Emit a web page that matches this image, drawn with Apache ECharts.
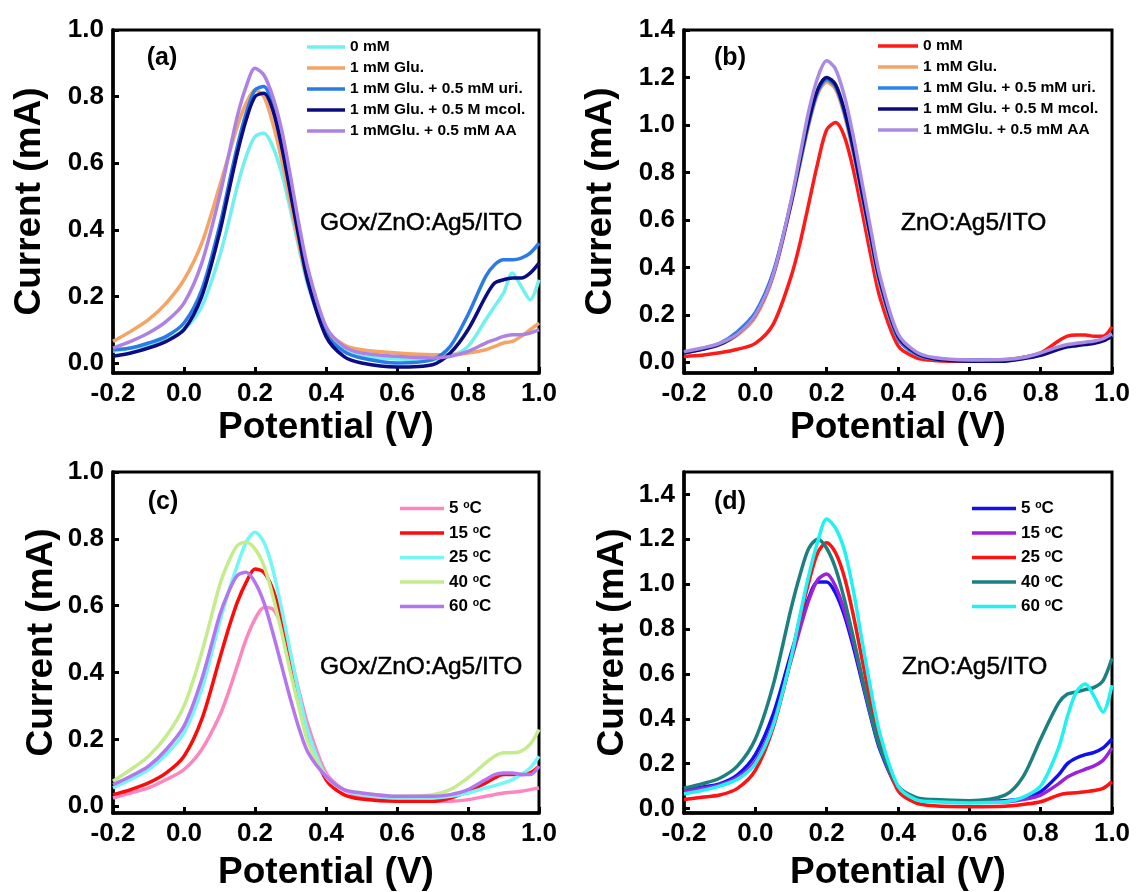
<!DOCTYPE html>
<html>
<head>
<meta charset="utf-8">
<title>Glucose sensing voltammograms</title>
<script src="https://cdn.jsdelivr.net/npm/echarts@6/dist/echarts.min.js"></script>
<style>
  html, body { margin: 0; padding: 0; background: #fff; }
  #chart { width: 1137px; height: 892px; }
</style>
</head>
<body>
<div id="chart"></div>
<script>
// Potential sweep points (V), shared by every curve
const POTENTIAL = [-0.2, -0.15, -0.1, -0.05, 0, 0.05, 0.1, 0.125, 0.15, 0.175, 0.2, 0.225, 0.25, 0.275, 0.3, 0.325, 0.35, 0.4, 0.45, 0.5, 0.6, 0.7, 0.75, 0.8, 0.85, 0.875, 0.9, 0.925, 0.95, 0.975, 1.0];

// Tick labels
const X_TICKS = [-0.2, 0, 0.2, 0.4, 0.6, 0.8, 1.0];
const Y_TICKS_1 = [0, 0.2, 0.4, 0.6, 0.8, 1.0];
const Y_TICKS_14 = [0, 0.2, 0.4, 0.6, 0.8, 1.0, 1.2, 1.4];

// Legend entries
const ANALYTE_LABELS = ['0 mM', '1 mM Glu.', '1 mM Glu. + 0.5 mM uri.', '1 mM Glu. + 0.5 M mcol.', '1 mMGlu. + 0.5 mM AA'];
const TEMPERATURES = ['5', '15', '25', '40', '60'];

// (a) GOx/ZnO:Ag5/ITO, interferents — current (mA)
const A_0MM   = [0.035,0.045,0.055,0.07,0.10,0.17,0.32,0.42,0.53,0.62,0.68,0.69,0.65,0.57,0.46,0.34,0.23,0.09,0.04,0.02,0.012,0.01,0.02,0.05,0.13,0.17,0.21,0.27,0.23,0.19,0.25];
const A_GLU   = [0.065,0.095,0.13,0.18,0.25,0.36,0.53,0.62,0.71,0.78,0.82,0.80,0.72,0.61,0.48,0.35,0.24,0.10,0.055,0.04,0.03,0.025,0.025,0.03,0.04,0.05,0.06,0.065,0.08,0.10,0.12];
const A_URI   = [0.04,0.045,0.06,0.08,0.12,0.22,0.41,0.53,0.65,0.75,0.82,0.83,0.77,0.66,0.52,0.38,0.25,0.09,0.035,0.015,0.0,0.01,0.05,0.145,0.26,0.295,0.31,0.31,0.315,0.33,0.36];
const A_MCOL  = [0.02,0.03,0.045,0.065,0.10,0.20,0.39,0.51,0.63,0.73,0.80,0.81,0.76,0.65,0.51,0.37,0.24,0.08,0.02,0.0,-0.012,-0.005,0.03,0.10,0.20,0.24,0.25,0.255,0.255,0.27,0.30];
const A_AA    = [0.045,0.065,0.09,0.125,0.18,0.30,0.50,0.62,0.74,0.83,0.885,0.865,0.80,0.70,0.56,0.41,0.28,0.11,0.05,0.03,0.02,0.015,0.02,0.035,0.06,0.07,0.08,0.085,0.085,0.09,0.10];

// (b) ZnO:Ag5/ITO, interferents
const B_0MM   = [0.025,0.03,0.04,0.055,0.08,0.16,0.36,0.50,0.67,0.84,0.98,1.01,0.95,0.81,0.63,0.44,0.27,0.07,0.02,0.008,0.004,0.01,0.02,0.04,0.09,0.11,0.115,0.115,0.11,0.11,0.15];
const B_GLU   = [0.04,0.055,0.075,0.115,0.19,0.36,0.66,0.83,1.00,1.13,1.18,1.15,1.04,0.88,0.69,0.50,0.32,0.10,0.035,0.015,0.01,0.012,0.02,0.035,0.06,0.07,0.075,0.08,0.085,0.095,0.115];
const B_URI   = [0.04,0.055,0.08,0.13,0.21,0.38,0.67,0.84,1.01,1.14,1.19,1.16,1.05,0.89,0.70,0.51,0.33,0.10,0.035,0.015,0.01,0.01,0.02,0.035,0.06,0.07,0.075,0.08,0.085,0.095,0.115];
const B_MCOL  = [0.04,0.055,0.075,0.12,0.20,0.37,0.67,0.85,1.02,1.15,1.20,1.17,1.06,0.90,0.71,0.52,0.34,0.11,0.04,0.015,0.005,0.005,0.015,0.03,0.055,0.065,0.07,0.075,0.08,0.09,0.11];
const B_AA    = [0.045,0.06,0.08,0.12,0.20,0.37,0.68,0.87,1.06,1.20,1.27,1.235,1.12,0.95,0.75,0.55,0.36,0.12,0.045,0.02,0.01,0.012,0.02,0.04,0.065,0.075,0.08,0.085,0.09,0.10,0.12];

// (c) GOx/ZnO:Ag5/ITO, temperature series
const C_5C    = [0.025,0.04,0.055,0.08,0.11,0.17,0.27,0.34,0.42,0.50,0.56,0.595,0.59,0.54,0.45,0.34,0.24,0.10,0.05,0.03,0.02,0.015,0.015,0.02,0.03,0.035,0.04,0.042,0.045,0.05,0.055];
const C_15C   = [0.035,0.05,0.07,0.10,0.15,0.26,0.44,0.53,0.61,0.67,0.71,0.70,0.65,0.56,0.44,0.32,0.21,0.08,0.035,0.022,0.015,0.015,0.025,0.045,0.07,0.085,0.095,0.095,0.095,0.10,0.12];
const C_25C   = [0.055,0.08,0.11,0.155,0.22,0.35,0.55,0.64,0.72,0.79,0.82,0.79,0.71,0.59,0.46,0.33,0.22,0.09,0.05,0.035,0.025,0.025,0.03,0.04,0.055,0.062,0.07,0.08,0.095,0.115,0.15];
const C_40C   = [0.075,0.11,0.15,0.21,0.30,0.46,0.66,0.73,0.78,0.79,0.77,0.72,0.63,0.52,0.40,0.29,0.19,0.09,0.05,0.04,0.03,0.035,0.05,0.085,0.13,0.15,0.16,0.16,0.165,0.185,0.23];
const C_60C   = [0.065,0.09,0.12,0.17,0.24,0.38,0.57,0.64,0.69,0.70,0.67,0.61,0.52,0.42,0.32,0.23,0.16,0.09,0.05,0.04,0.03,0.03,0.035,0.05,0.08,0.095,0.10,0.10,0.095,0.095,0.12];

// (d) ZnO:Ag5/ITO, temperature series
const D_5C    = [0.08,0.095,0.11,0.15,0.24,0.42,0.69,0.82,0.94,1.01,1.01,0.96,0.86,0.72,0.56,0.40,0.26,0.09,0.045,0.035,0.03,0.035,0.045,0.075,0.15,0.20,0.225,0.24,0.25,0.27,0.31];
const D_15C   = [0.075,0.09,0.105,0.14,0.21,0.38,0.66,0.80,0.93,1.02,1.045,0.99,0.88,0.74,0.57,0.41,0.27,0.09,0.045,0.035,0.03,0.03,0.04,0.06,0.11,0.14,0.16,0.175,0.19,0.215,0.27];
const D_25C   = [0.04,0.05,0.06,0.09,0.17,0.36,0.67,0.85,1.01,1.14,1.185,1.14,1.03,0.86,0.66,0.46,0.29,0.08,0.025,0.012,0.008,0.01,0.018,0.03,0.06,0.068,0.07,0.075,0.08,0.09,0.12];
const D_40C   = [0.09,0.11,0.135,0.19,0.31,0.55,0.89,1.04,1.16,1.20,1.16,1.07,0.93,0.76,0.58,0.41,0.27,0.10,0.05,0.04,0.035,0.06,0.14,0.31,0.47,0.51,0.52,0.53,0.54,0.57,0.67];
const D_60C   = [0.065,0.08,0.10,0.13,0.20,0.37,0.67,0.86,1.04,1.19,1.29,1.25,1.15,0.97,0.74,0.52,0.33,0.10,0.04,0.03,0.025,0.03,0.05,0.10,0.27,0.41,0.52,0.555,0.50,0.43,0.55];

const FONT = '"Liberation Sans", Arial, Helvetica, sans-serif';

// Panel layout and styling
const panels = [
  { key: 'a', grid: { left: 113, top: 30, width: 426, height: 343 }, yMin: -0.03, yMax: 1.0, yTicks: Y_TICKS_1,
    yNameGap: 65, xNameGap: 36, tag: '(a)', tagPos: [162, 58], film: 'GOx/ZnO:Ag5/ITO', filmPos: [320, 223],
    labels: ANALYTE_LABELS, values: [A_0MM, A_GLU, A_URI, A_MCOL, A_AA],
    colors: ['#72f0f0', '#f4a464', '#2a7be4', '#0c0c82', '#ad82e3'],
    legend: { left: 307, top: 39, itemWidth: 38, fontSize: 15.5, pitch: 20.5 } },
  { key: 'b', grid: { left: 684, top: 30, width: 428, height: 343 }, yMin: -0.045, yMax: 1.4, yTicks: Y_TICKS_14,
    yNameGap: 65, xNameGap: 36, tag: '(b)', tagPos: [730, 58], film: 'ZnO:Ag5/ITO', filmPos: [901, 223],
    labels: ANALYTE_LABELS, values: [B_0MM, B_GLU, B_URI, B_MCOL, B_AA],
    colors: ['#ff1a1a', '#f4a464', '#2a86e8', '#0c0c82', '#a98be3'],
    legend: { left: 878, top: 38, itemWidth: 40, fontSize: 15.5, pitch: 20.5 } },
  { key: 'c', grid: { left: 113, top: 472, width: 426, height: 345 }, yMin: -0.02, yMax: 1.0, yTicks: Y_TICKS_1,
    yNameGap: 53, xNameGap: 41, tag: '(c)', tagPos: [163, 502], film: 'GOx/ZnO:Ag5/ITO', filmPos: [320, 667],
    labels: TEMPERATURES, temp: true, values: [C_5C, C_15C, C_25C, C_40C, C_60C],
    colors: ['#ff85bf', '#ff0a0a', '#72f6f6', '#c5ec8c', '#b476ef'],
    legend: { left: 400, top: 500, itemWidth: 44, fontSize: 17, pitch: 24.5 } },
  { key: 'd', grid: { left: 684, top: 472, width: 428, height: 345 }, yMin: -0.02, yMax: 1.5, yTicks: Y_TICKS_14,
    yNameGap: 53, xNameGap: 41, tag: '(d)', tagPos: [730, 502], film: 'ZnO:Ag5/ITO', filmPos: [902, 667],
    labels: TEMPERATURES, temp: true, values: [D_5C, D_15C, D_25C, D_40C, D_60C],
    colors: ['#1010f0', '#9b22d6', '#ff1212', '#1b807f', '#20f2f2'],
    legend: { left: 972, top: 500, itemWidth: 44, fontSize: 17, pitch: 24.5 } }
];

const fmt1 = v => (Math.abs(v) < 1e-9 ? 0 : v).toFixed(1);

const grids = [], xAxes = [], yAxes = [], series = [], legends = [], graphics = [];

panels.forEach((p, i) => {
  grids.push(Object.assign({ show: true, borderColor: '#000', borderWidth: 3, backgroundColor: 'transparent', containLabel: false }, p.grid));

  xAxes.push({
    type: 'value', gridIndex: i, min: -0.2, max: 1.0,
    axisLine: { show: true, onZero: false, lineStyle: { color: '#000', width: 3.5 } },
    axisTick: { show: true, inside: true, length: 6, customValues: X_TICKS, lineStyle: { color: '#000', width: 3 } },
    axisLabel: { customValues: X_TICKS, formatter: fmt1, margin: 8, color: '#000', fontFamily: FONT, fontWeight: 'bold', fontSize: 26 },
    splitLine: { show: false },
    name: 'Potential (V)', nameLocation: 'middle', nameGap: p.xNameGap,
    nameTextStyle: { color: '#000', fontFamily: FONT, fontWeight: 'bold', fontSize: 37 }
  });

  yAxes.push({
    type: 'value', gridIndex: i, min: p.yMin, max: p.yMax,
    axisLine: { show: true, onZero: false, lineStyle: { color: '#000', width: 3.5 } },
    axisTick: { show: true, inside: true, length: 6, customValues: p.yTicks, lineStyle: { color: '#000', width: 3 } },
    axisLabel: { customValues: p.yTicks, formatter: fmt1, margin: 9, color: '#000', fontFamily: FONT, fontWeight: 'bold', fontSize: 26 },
    splitLine: { show: false },
    name: 'Current (mA)', nameLocation: 'middle', nameGap: p.yNameGap,
    nameTextStyle: { color: '#000', fontFamily: FONT, fontWeight: 'bold', fontSize: 37 }
  });

  const names = [];
  p.labels.forEach((label, j) => {
    const name = p.key + '|' + label;
    names.push(name);
    series.push({
      name, type: 'line', xAxisIndex: i, yAxisIndex: i,
      data: POTENTIAL.map((x, k) => [x, p.values[j][k]]),
      smooth: 0.3, showSymbol: false, symbol: 'none', clip: true,
      color: p.colors[j],
      itemStyle: { color: p.colors[j] },
      lineStyle: { color: p.colors[j], width: 3.5 },
      emphasis: { disabled: true }, silent: true
    });
  });

  const lh = p.legend.fontSize;
  legends.push({
    orient: 'vertical', left: p.legend.left, top: p.legend.top, padding: 0,
    itemWidth: p.legend.itemWidth, itemHeight: 3.5, icon: 'rect',
    itemGap: p.legend.pitch - lh, selectedMode: false,
    data: names,
    formatter: p.temp ? (n => n.split('|')[1] + ' {s|o}C') : (n => n.split('|')[1]),
    textStyle: {
      color: '#000', fontFamily: FONT, fontWeight: 'bold', fontSize: p.legend.fontSize, lineHeight: lh,
      rich: { s: { fontSize: 10.5, fontWeight: 'bold', fontFamily: FONT, color: '#000', verticalAlign: 'top', lineHeight: 7 } }
    }
  });

  graphics.push({
    type: 'text', x: p.tagPos[0], y: p.tagPos[1], silent: true,
    style: { text: p.tag, fill: '#000', fontFamily: FONT, fontWeight: 'bold', fontSize: 25, align: 'center', verticalAlign: 'middle' }
  });
  graphics.push({
    type: 'text', x: p.filmPos[0], y: p.filmPos[1], silent: true,
    style: { text: p.film, fill: '#000', stroke: '#000', lineWidth: 0.5, fontFamily: FONT, fontSize: 24.5, align: 'left', verticalAlign: 'middle' }
  });
});

const chart = echarts.init(document.getElementById('chart'), null, { renderer: 'canvas' });
chart.setOption({
  backgroundColor: '#fff',
  animation: false,
  grid: grids,
  xAxis: xAxes,
  yAxis: yAxes,
  legend: legends,
  series,
  graphic: graphics
});
</script>
</body>
</html>
